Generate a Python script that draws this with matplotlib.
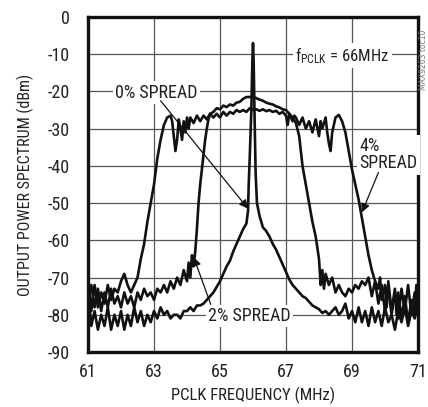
import matplotlib
matplotlib.use("Agg")
import matplotlib.pyplot as plt
from matplotlib import font_manager as fm

_installed = {f.name for f in fm.fontManager.ttflist}
_cands = ['Liberation Sans Narrow', 'Roboto Condensed', 'Archivo Narrow', 'PT Sans Narrow',
          'Open Sans Condensed', 'DejaVu Sans']
FAM = [c for c in _cands if c in _installed] + ['DejaVu Sans']
plt.rcParams['font.family'] = FAM
plt.rcParams['mathtext.fontset'] = 'custom'
plt.rcParams['mathtext.rm'] = FAM[0]
plt.rcParams['mathtext.it'] = FAM[0]

# ---------------- data ----------------
x_ticks = [61, 63, 65, 67, 69, 71]
y_ticks = [0, -10, -20, -30, -40, -50, -60, -70, -80, -90]

# 0% spread
f0 = [61.0, 61.05, 61.1, 61.2, 61.3, 61.4, 61.5, 61.6, 61.7, 61.8, 61.9, 62.0, 62.1, 62.2,
      62.3, 62.4, 62.5, 62.6, 62.7, 62.8, 62.9, 63.0, 63.1, 63.2, 63.3, 63.4, 63.5, 63.6,
      63.7, 63.8, 63.9, 64.0, 64.1, 64.2, 64.3, 64.4, 64.5, 64.6, 64.7, 64.8, 64.9, 65.0,
      65.1, 65.2, 65.3, 65.4, 65.5, 65.6, 65.7, 65.8, 65.85, 65.87, 65.9, 65.95, 65.98,
      66.0, 66.02, 66.05, 66.08, 66.12, 66.2, 66.3, 66.4, 66.5, 66.6, 66.7, 66.8, 66.9,
      67.0, 67.1, 67.2, 67.3, 67.4, 67.5, 67.6, 67.7, 67.8, 67.9, 68.0, 68.1, 68.2, 68.3,
      68.4, 68.5, 68.6, 68.7, 68.8, 68.9, 69.0, 69.1, 69.2, 69.3, 69.4, 69.5, 69.6, 69.7,
      69.8, 69.9, 70.0, 70.1, 70.2, 70.3, 70.4, 70.5, 70.6, 70.7, 70.8, 70.9, 71.0]
p0 = [-85, -78, -83, -79, -84, -80, -83, -78, -84, -80, -83, -79, -84, -80,
      -83, -78, -82, -79, -83, -80, -82, -79, -81, -78, -80, -79, -81, -80,
      -80, -81, -79, -79, -78, -79, -77.5, -77.5, -77, -76, -75, -74, -72.5, -71,
      -69, -67, -65.5, -63, -61, -59, -57, -55.5, -52, -45, -38, -25, -12,
      -7, -12, -28, -42, -50, -53.5, -56.5, -57.5, -59, -61, -62.5, -64.5, -66.5,
      -68.5, -70.5, -72, -73, -74, -75, -75.5, -76.5, -77.5, -78, -78.5, -79.5, -79, -80,
      -79, -78, -80, -79, -77, -81, -79, -82, -78, -82, -79, -83, -78, -82,
      -79, -83, -78, -82, -80, -84, -79, -82, -78, -83, -79, -81, -77]

# 2% spread
f2 = [61.0, 61.1, 61.2, 61.3, 61.4, 61.5, 61.6, 61.7, 61.8, 61.9, 62.0, 62.1, 62.2, 62.3,
      62.4, 62.5, 62.6, 62.7, 62.8, 62.9, 63.0, 63.1, 63.2, 63.3, 63.4, 63.5, 63.6, 63.7,
      63.8, 63.9, 64.0, 64.05, 64.1, 64.15, 64.2, 64.25, 64.3, 64.35, 64.4, 64.45, 64.5,
      64.55, 64.6, 64.65, 64.7, 64.8, 64.9, 65.0, 65.1, 65.2, 65.3, 65.4, 65.5, 65.6, 65.7,
      65.8, 65.9, 66.0, 66.1, 66.2, 66.3, 66.4, 66.5, 66.6, 66.7, 66.8, 66.9, 67.0, 67.1,
      67.2, 67.3, 67.4, 67.5, 67.6, 67.7, 67.8, 67.9, 68.0, 68.05, 68.1, 68.15, 68.2, 68.3,
      68.4, 68.5, 68.6, 68.7, 68.8, 68.9, 69.0, 69.1, 69.2, 69.3, 69.4, 69.5, 69.6, 69.7,
      69.8, 69.9, 70.0, 70.1, 70.2, 70.3, 70.4, 70.5, 70.6, 70.7, 70.8, 70.9, 71.0]
p2 = [-76, -72, -78, -73, -79, -74, -78, -73, -77, -75, -78, -74, -77, -75,
      -78, -74, -76, -73, -75, -74, -76, -73, -74, -72, -74, -71, -73, -70,
      -72, -68, -71, -66, -70, -64, -67, -63, -57, -50, -45, -41, -37,
      -33, -30, -27.5, -26, -25.5, -24.5, -24.8, -23.8, -24.2, -23.5, -23.8, -23, -22.8, -22,
      -21.5, -21.5, -21.3, -21.8, -22.2, -22.5, -23, -23.3, -23.5, -24, -24.3, -24.8, -25, -26,
      -27, -28.5, -32, -40, -45, -50, -55, -59, -65, -72, -68, -73, -69, -72,
      -70, -74, -72, -74, -75, -73, -74, -72, -73, -71, -72, -70, -75, -71,
      -77, -72, -79, -73, -80, -74, -81, -73, -79, -72, -80, -74, -78]

# 4% spread
f4 = [61.0, 61.05, 61.1, 61.2, 61.3, 61.4, 61.5, 61.6, 61.7, 61.8, 61.9, 62.0, 62.1, 62.2,
      62.3, 62.4, 62.5, 62.6, 62.7, 62.8, 62.9, 63.0, 63.1, 63.2, 63.3, 63.4, 63.5, 63.55,
      63.6, 63.65, 63.7, 63.75, 63.8, 63.85, 63.9, 63.95, 64.0, 64.05, 64.1, 64.2, 64.3,
      64.4, 64.5, 64.6, 64.7, 64.8, 64.9, 65.0, 65.1, 65.2, 65.3, 65.4, 65.5, 65.6, 65.7,
      65.8, 65.9, 66.0, 66.1, 66.2, 66.3, 66.4, 66.5, 66.6, 66.7, 66.8, 66.9, 67.0, 67.05,
      67.1, 67.2, 67.25, 67.3, 67.4, 67.5, 67.6, 67.7, 67.8, 67.9, 68.0, 68.05, 68.1, 68.2,
      68.25, 68.3, 68.35, 68.4, 68.5, 68.6, 68.7, 68.8, 68.9, 69.0, 69.1, 69.2, 69.3, 69.4,
      69.5, 69.6, 69.7, 69.8, 69.85, 69.9, 70.0, 70.05, 70.1, 70.2, 70.3, 70.35, 70.4, 70.5,
      70.6, 70.7, 70.8, 70.9, 70.95, 71.0]
p4 = [-80, -74, -79, -72, -78, -74, -77, -72, -76, -73, -74, -71, -69, -72,
      -74, -72, -70, -65, -61, -55, -50, -45, -38, -33, -29, -27, -26.5, -28,
      -32, -36, -33, -27.5, -30, -33, -28, -31, -27, -30, -27, -28.5, -26.5,
      -28, -26.5, -27.5, -26, -27, -26, -27, -25.5, -26.5, -25.5, -26, -25, -25.5, -25,
      -25.5, -24.5, -25, -24.8, -25.2, -24.8, -25.3, -25, -25.5, -25.2, -26, -25.5, -26.5, -29,
      -26, -28, -26.5, -27, -29, -27, -30, -28, -31, -27.5, -32, -28, -30, -27,
      -31, -34, -36, -31, -27, -26.3, -28, -31, -36, -41, -45, -49, -54, -59,
      -64, -68, -71, -73, -70, -76, -72, -78, -71, -79, -73, -80, -74, -81,
      -75, -82, -76, -80, -72, -75]

labels = ["0% SPREAD", "2% SPREAD", "4%\nSPREAD"]

# ---------------- figure ----------------
fig = plt.figure(figsize=(4.28, 4.07), dpi=100)
ax = fig.add_axes([88 / 428, 55 / 407, 330 / 428, 335 / 407])

line_kw = dict(color='#111111', lw=1.9, solid_joinstyle='round')
ax.plot(f0, p0, **line_kw)
ax.plot(f2, p2, **line_kw)
ax.plot(f4, p4, **line_kw)

ax.set_xlim(61, 71)
ax.set_ylim(-90, 0)
ax.set_xticks(x_ticks)
ax.set_yticks(y_ticks)
ax.set_xticklabels([str(v) for v in x_ticks])
ax.set_yticklabels([str(v) for v in y_ticks])
ax.grid(True, color='#555555', lw=0.9)
ax.set_axisbelow(True)
for s in ax.spines.values():
    s.set_linewidth(2.4)
    s.set_color('#111111')
ax.tick_params(length=0, labelsize=13, colors='#222222')
ax.tick_params(axis='y', pad=13)
ax.tick_params(axis='x', pad=8)

ax.set_xlabel("PCLK FREQUENCY (MHz)", fontsize=12, color='#222222', labelpad=4)
ax.set_ylabel("OUTPUT POWER SPECTRUM (dBm)", fontsize=11.5, color='#222222', labelpad=10)

box = dict(facecolor='white', edgecolor='none', pad=1.5)
ax.text(67.28, -10.3, r"f$_{\mathregular{PCLK}}$ = 66MHz", fontsize=12, color='#222222',
        va='center', ha='left', bbox=box, zorder=5)
ax.text(61.82, -20.3, labels[0], fontsize=13, color='#222222', va='center', ha='left',
        bbox=box, zorder=5)
ax.text(65.9, -80.3, labels[1], fontsize=13, color='#222222', va='center', ha='center',
        bbox=box, zorder=5)
ax.text(69.22, -37.0, labels[2], fontsize=13, color='#222222', va='center', ha='left',
        linespacing=0.95, bbox=box, zorder=5)

arrow = dict(arrowstyle='-|>', color='#111111', lw=0.9, mutation_scale=13,
             shrinkA=0, shrinkB=0)
ax.annotate("", xy=(65.85, -51.5), xytext=(63.2, -22.5), arrowprops=arrow, zorder=6)
ax.annotate("", xy=(64.2, -64.5), xytext=(64.72, -77.2), arrowprops=arrow, zorder=6)
ax.annotate("", xy=(69.3, -52.5), xytext=(69.8, -41.8), arrowprops=arrow, zorder=6)

fig.text(423 / 428, 1 - 60 / 407, "MAX9263 toc10", rotation=90, fontsize=5.5,
         color='#777777', ha='center', va='center', family=['DejaVu Sans'])

fig.savefig("out.png", dpi=100)
